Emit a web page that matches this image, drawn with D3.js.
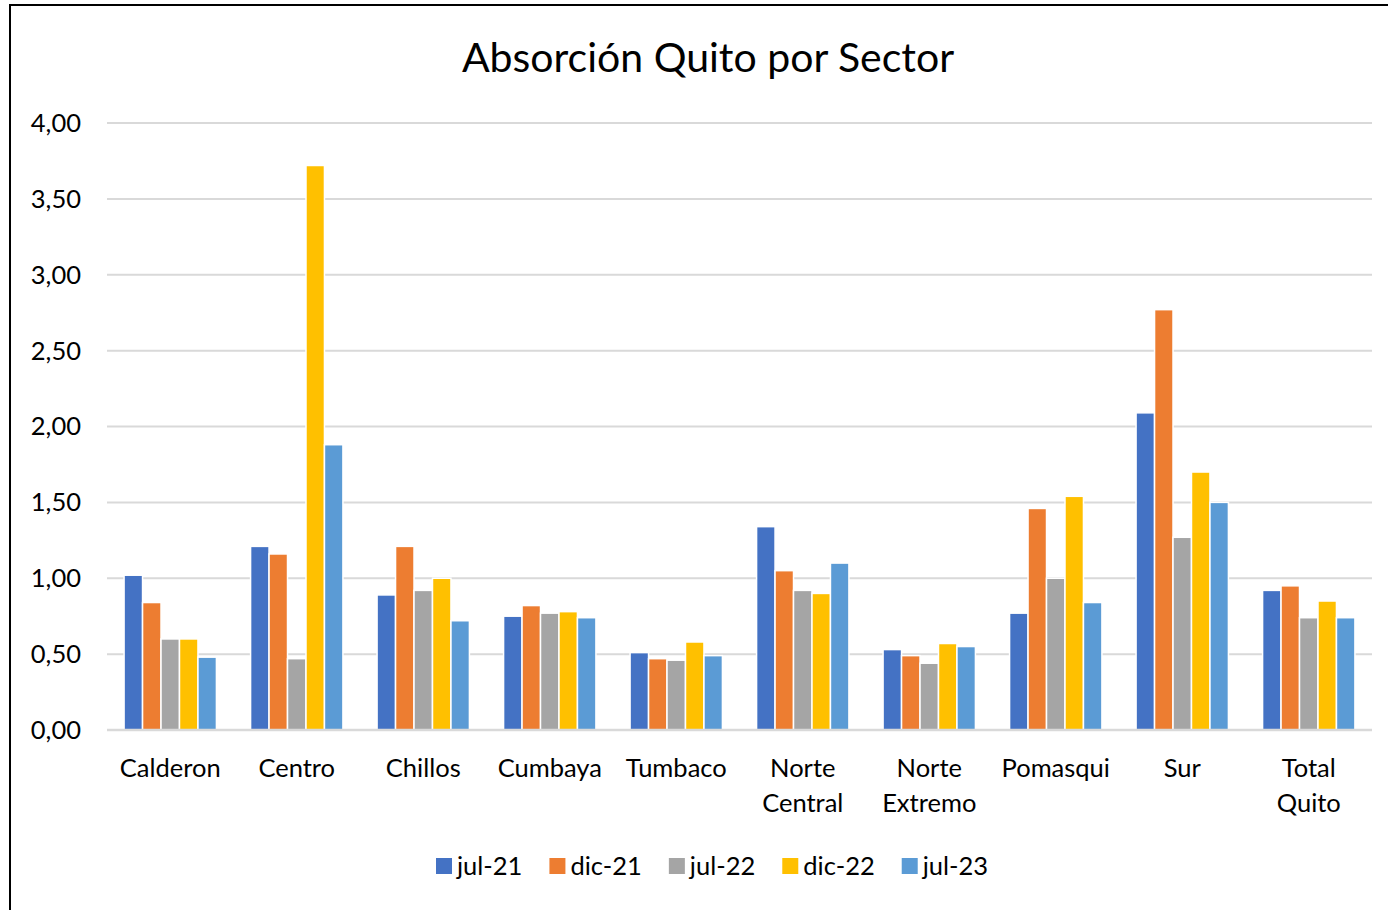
<!DOCTYPE html>
<html>
<head>
<meta charset="utf-8">
<script src="https://cdn.jsdelivr.net/npm/d3@7"></script>
<style>
  body { margin: 0; background: #fff; }
  svg { display: block; font-family: Lato, "Open Sans", sans-serif; }
</style>
</head>
<body>
<svg id="chart"></svg>
<script>
// data
const categories = ['Calderon', 'Centro', 'Chillos', 'Cumbaya', 'Tumbaco', 'Norte Central', 'Norte Extremo', 'Pomasqui', 'Sur', 'Total Quito'];
const seriesNames = ['jul-21', 'dic-21', 'jul-22', 'dic-22', 'jul-23'];
const jul21 = [1.02, 1.21, 0.89, 0.75, 0.51, 1.34, 0.53, 0.77, 2.09, 0.92];
const dic21 = [0.84, 1.16, 1.21, 0.82, 0.47, 1.05, 0.49, 1.46, 2.77, 0.95];
const jul22 = [0.60, 0.47, 0.92, 0.77, 0.46, 0.92, 0.44, 1.00, 1.27, 0.74];
const dic22 = [0.60, 3.72, 1.00, 0.78, 0.58, 0.90, 0.57, 1.54, 1.70, 0.85];
const jul23 = [0.48, 1.88, 0.72, 0.74, 0.49, 1.10, 0.55, 0.84, 1.50, 0.74];
const yTicks = [0, 0.5, 1, 1.5, 2, 2.5, 3, 3.5, 4];
const colors = ['#4472c4', '#ed7d31', '#a5a5a5', '#ffc000', '#5b9bd5'];

const series = [jul21, dic21, jul22, dic22, jul23];

let width = 1388, height = 910;
let svg = d3.select('#chart').attr('width', width).attr('height', height);

// chart frame
svg.append('rect')
   .attr('x', 10).attr('y', 5)
   .attr('width', 1400).attr('height', 940)
   .attr('fill', 'white')
   .attr('stroke', '#000').attr('stroke-width', 2);

let plotLeft = 107, plotRight = 1372, plotTop = 123, plotBottom = 730;

let x = d3.scaleBand().domain(categories).range([plotLeft, plotRight]).padding(0);
let xs = d3.scaleBand().domain(seriesNames)
           .range([x.bandwidth() * 0.135, x.bandwidth() * 0.865])
           .paddingInner(0.0);
let y = d3.scaleLinear().domain([0, 4]).range([plotBottom, plotTop]);

let fmt = v => d3.format('.2f')(v).replace('.', ',');

// gridlines
svg.append('g')
   .selectAll('line')
   .data(yTicks.filter(d => d > 0))
   .enter()
   .append('line')
   .attr('x1', plotLeft).attr('x2', plotRight)
   .attr('y1', d => y(d)).attr('y2', d => y(d))
   .attr('stroke', '#d9d9d9').attr('stroke-width', 2);

// y labels
svg.append('g')
   .selectAll('text')
   .data(yTicks)
   .enter()
   .append('text')
   .attr('x', 81).attr('y', d => y(d))
   .attr('dy', '0.35em')
   .attr('text-anchor', 'end')
   .attr('font-size', 25.5)
   .attr('fill', '#000')
   .text(fmt);

// bars
let groups = svg.append('g')
   .selectAll('g')
   .data(categories)
   .enter()
   .append('g')
   .attr('transform', d => `translate(${x(d)},0)`);

groups.selectAll('rect')
   .data((d, i) => series.map((s, j) => ({ key: seriesNames[j], value: s[i], c: colors[j] })))
   .enter()
   .append('rect')
   .attr('x', d => xs(d.key))
   .attr('y', d => y(d.value))
   .attr('width', xs.bandwidth())
   .attr('height', d => plotBottom - y(d.value))
   .attr('fill', d => d.c)
   .attr('stroke', '#fff').attr('stroke-width', 1.5);

// baseline
svg.append('line')
   .attr('x1', plotLeft).attr('x2', plotRight)
   .attr('y1', plotBottom).attr('y2', plotBottom)
   .attr('stroke', '#d9d9d9').attr('stroke-width', 2.5);

// category labels (two-word names wrap onto a second line)
let catLabels = svg.append('g')
   .selectAll('text')
   .data(categories)
   .enter()
   .append('text')
   .attr('x', d => x(d) + x.bandwidth() / 2)
   .attr('y', 768)
   .attr('text-anchor', 'middle')
   .attr('font-size', 25.5)
   .attr('fill', '#000');

catLabels.each(function(d) {
    let t = d3.select(this);
    d.split(' ').forEach((w, k) => {
        t.append('tspan')
         .attr('x', x(d) + x.bandwidth() / 2)
         .attr('dy', k === 0 ? '0.35em' : 35)
         .text(w);
    });
});

// title
svg.append('text')
   .attr('x', 708).attr('y', 58)
   .attr('dy', '0.35em')
   .attr('text-anchor', 'middle')
   .attr('font-size', 41)
   .attr('fill', '#000')
   .text('Absorción Quito por Sector');

// legend
let legend = svg.append('g').attr('transform', 'translate(436,866)');
let lx = 0;
seriesNames.forEach((name, i) => {
    let item = legend.append('g').attr('transform', `translate(${lx},0)`);
    item.append('rect')
        .attr('x', 0).attr('y', -8)
        .attr('width', 16).attr('height', 16)
        .attr('fill', colors[i]);
    let t = item.append('text')
        .attr('x', 21).attr('y', 0)
        .attr('dy', '0.35em')
        .attr('font-size', 25.5)
        .attr('fill', '#000')
        .text(name);
    lx += 21 + t.node().getComputedTextLength() + 27;
});
</script>
</body>
</html>
